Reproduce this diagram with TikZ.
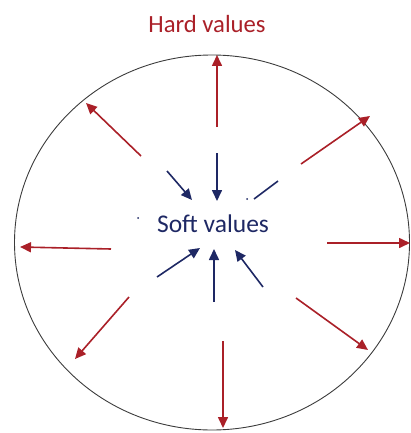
\documentclass[tikz,border=0pt]{standalone}
\usepackage{fontspec}
\setmainfont{Carlito}
\usetikzlibrary{arrows.meta}
\definecolor{hardred}{RGB}{170,32,40}
\definecolor{softblue}{RGB}{30,40,100}
\tikzset{
  hardarrow/.style={draw=hardred,line width=1.6pt,-{Triangle[length=11pt,width=10pt]}},
  softarrow/.style={draw=softblue,line width=1.6pt,-{Triangle[length=11pt,width=10pt]}},
  softline/.style={draw=softblue,line width=1.6pt}
}
\begin{document}
\begin{tikzpicture}[x=1pt,y=1pt,yscale=-1,xscale=1]
                \useasboundingbox (0,0) rectangle (410,433);
                %Shape: Ellipse
                \draw [color={rgb, 255:red, 60; green, 60; blue, 60 }, line width=0.9] (212,242.5) ellipse (197.5 and 187.5);

                % Text Node
                \node (hard) at (207,24) {\fontsize{24.7}{30}\selectfont\color{hardred}Hard values};
                % Text Node
                \node (soft) at (213,224) {\fontsize{25.5}{31}\selectfont\color{softblue}Soft values};

                %Outer ends
                \coordinate (rn s) at (217,127);   \coordinate (rn e) at (217,55);
                \coordinate (rnw s) at (141,156);  \coordinate (rnw e) at (86,103);
                \coordinate (rne s) at (301,164);  \coordinate (rne e) at (370,116);
                \coordinate (rw s) at (111,249);   \coordinate (rw e) at (20,247);
                \coordinate (re s) at (327,243);   \coordinate (re e) at (410,243);
                \coordinate (rsw s) at (129,297);  \coordinate (rsw e) at (75,359);
                \coordinate (rs s) at (223,341);   \coordinate (rs e) at (223,428);
                \coordinate (rse s) at (296,298);  \coordinate (rse e) at (368,350);
                %Straight Lines, outward
                \foreach \d in {n,nw,ne,w,e,sw,s,se}
                  \draw [hardarrow] (r\d\space s) -- (r\d\space e);

                %Inner ends
                \coordinate (bnw s) at (167,171);  \coordinate (bnw e) at (192,200);
                \coordinate (bn s) at (217,153);   \coordinate (bn e) at (217,201);
                \coordinate (bsw s) at (157,277);  \coordinate (bsw e) at (200,248);
                \coordinate (bs s) at (214,302);   \coordinate (bs e) at (214,249);
                \coordinate (bse s) at (263,287);  \coordinate (bse e) at (235,250);
                \coordinate (bne s) at (278,181);  \coordinate (bne e) at (254,199);
                %Straight Lines, inward
                \foreach \d in {nw,n,sw,s,se}
                  \draw [softarrow] (b\d\space s) -- (b\d\space e);
                \draw [softline] (bne s) -- (bne e);
                \fill [softblue] (247,199) circle (1);
                \fill [softblue] (138,218) circle (1);
\end{tikzpicture}
\end{document}
